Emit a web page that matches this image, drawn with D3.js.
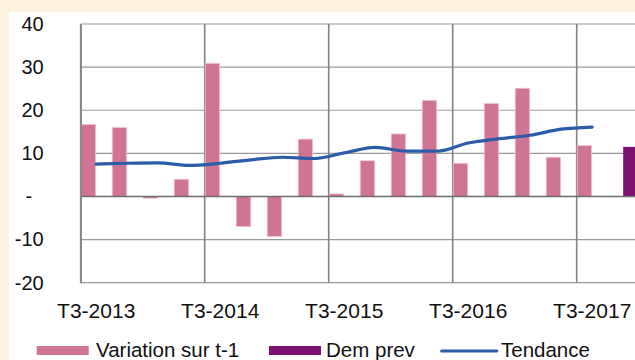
<!DOCTYPE html>
<html>
<head>
<meta charset="utf-8">
<script src="https://cdn.jsdelivr.net/npm/d3@7"></script>
<style>
  html, body { margin: 0; padding: 0; background: #fdf3df; }
  svg { display: block; }
  text { font-family: "Liberation Sans", Arial, sans-serif; fill: #111; }
</style>
</head>
<body>
<svg id="chart" width="635" height="360"></svg>
<script>
// Quarterly categories (T = trimestre)
const categories = [
  "T3-2013", "T4-2013", "T1-2014", "T2-2014", "T3-2014", "T4-2014",
  "T1-2015", "T2-2015", "T3-2015", "T4-2015", "T1-2016", "T2-2016",
  "T3-2016", "T4-2016", "T1-2017", "T2-2017", "T3-2017", "T4-2017"
];
// Variation sur le trimestre précédent
const variation = [16.7, 16.0, -0.4, 4.0, 30.9, -7.0, -9.3, 13.3, 0.6, 8.3,
                   14.5, 22.3, 7.7, 21.6, 25.1, 9.1, 11.8, null];
// Demande prévue
const demPrev = [null, null, null, null, null, null, null, null, null, null,
                 null, null, null, null, null, null, null, 11.5];
// Tendance
const tendance = [7.5, 7.7, 7.8, 7.2, 7.7, 8.5, 9.1, 8.8, 10.1, 11.4,
                  10.5, 10.5, 12.4, 13.4, 14.2, 15.6, 16.1, null];
const yTicks = [-20, -10, 0, 10, 20, 30, 40];
const shownLabels = ["T3-2013", "T3-2014", "T3-2015", "T3-2016", "T3-2017"];

const svg = d3.select("#chart");

// white chart area on the cream page
svg.append("rect").attr("x", 9).attr("y", 12).attr("width", 626).attr("height", 348).attr("fill", "#ffffff");

const x = d3.scaleBand().domain(categories).range([80.7, 80.7 + 31 * categories.length]).paddingInner(0).paddingOuter(0);
const y = d3.scaleLinear().domain([-20, 40]).range([282.7, 24]);
const half = x.bandwidth() / 2;

const plot = svg.append("g");

// horizontal gridlines
plot.append("g").selectAll("line").data(yTicks.filter(d => d !== 0)).join("line")
  .attr("x1", x.range()[0]).attr("x2", 640)
  .attr("y1", d => y(d)).attr("y2", d => y(d))
  .attr("stroke", "#9a9a9a").attr("stroke-width", 1.2);

// vertical gridlines at the labelled quarters
plot.append("g").selectAll("line").data(shownLabels).join("line")
  .attr("x1", d => x(d)).attr("x2", d => x(d))
  .attr("y1", y(40)).attr("y2", y(-20))
  .attr("stroke", "#828282").attr("stroke-width", 1.6);

// bars: variation (left half of each quarter), demande prévue (right half)
plot.append("g").selectAll("rect").data(categories.map((c, i) => ({c, v: variation[i]})).filter(d => d.v !== null)).join("rect")
  .attr("x", d => x(d.c) + 0.5)
  .attr("width", half - 1)
  .attr("y", d => y(Math.max(0, d.v)))
  .attr("height", d => Math.abs(y(d.v) - y(0)))
  .attr("fill", "#d07496").attr("stroke", "#f2c6d6").attr("stroke-width", 0.8);

plot.append("g").selectAll("rect").data(categories.map((c, i) => ({c, v: demPrev[i]})).filter(d => d.v !== null)).join("rect")
  .attr("x", d => x(d.c) + half)
  .attr("width", half)
  .attr("y", d => y(Math.max(0, d.v)))
  .attr("height", d => Math.abs(y(d.v) - y(0)))
  .attr("fill", "#7b1070");

// zero axis
plot.append("line").attr("x1", x.range()[0]).attr("x2", 640)
  .attr("y1", y(0)).attr("y2", y(0)).attr("stroke", "#6e6e6e").attr("stroke-width", 1.4);

// trend line
const line = d3.line()
  .defined(d => d.v !== null)
  .x(d => x(d.c) + x.bandwidth() / 2)
  .y(d => y(d.v))
  .curve(d3.curveMonotoneX);
plot.append("path")
  .datum(categories.map((c, i) => ({c, v: tendance[i]})))
  .attr("d", line)
  .attr("fill", "none").attr("stroke", "#2a5ca8").attr("stroke-width", 3.2)
  .attr("stroke-linecap", "round").attr("stroke-linejoin", "round");

// left axis (plain hyphen for negatives, a dash for zero)
const yAxis = d3.axisLeft(y).tickValues(yTicks).tickSize(0).tickPadding(37)
  .tickFormat(d => d === 0 ? "-" : String(d));
const ya = svg.append("g").attr("transform", `translate(${x.range()[0]},0)`).call(yAxis);
ya.select(".domain").attr("stroke", "#8a8a8a").attr("stroke-width", 1.6);
ya.selectAll("text").style("font-size", "20px").style("font-family", "Liberation Sans, Arial, sans-serif").attr("fill", "#111");
ya.selectAll(".tick").filter(d => d === 0).select("text").attr("x", -48.5);

// bottom axis labels
const xAxis = d3.axisBottom(x).tickValues(shownLabels).tickSize(0).tickPadding(20);
const xa = svg.append("g").attr("transform", `translate(0,${y(-20)})`).call(xAxis);
xa.select(".domain").remove();
xa.selectAll("text").style("font-size", "21px").style("font-family", "Liberation Sans, Arial, sans-serif").attr("fill", "#111");

// legend
const legend = svg.append("g").style("font-size", "20.5px");
const items = [
  {label: "Variation sur t-1", type: "rect", color: "#d07496", x: 36.7, tx: 96},
  {label: "Dem prev", type: "rect", color: "#7b1070", x: 269, tx: 326},
  {label: "Tendance", type: "line", color: "#2a5ca8", x: 441.7, tx: 501}
];
items.forEach(it => {
  if (it.type === "rect") {
    legend.append("rect").attr("x", it.x).attr("y", 346).attr("width", 52).attr("height", 9).attr("fill", it.color);
  } else {
    legend.append("line").attr("x1", it.x).attr("x2", it.x + 55).attr("y1", 351).attr("y2", 351)
      .attr("stroke", it.color).attr("stroke-width", 3.2).attr("stroke-linecap", "round");
  }
  legend.append("text").attr("x", it.tx).attr("y", 357).text(it.label);
});
</script>
</body>
</html>
